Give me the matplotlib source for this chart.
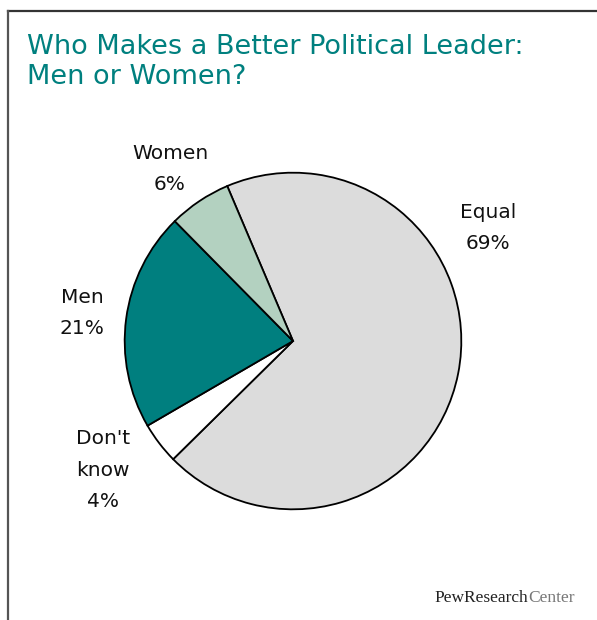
import matplotlib.pyplot as plt
from matplotlib.lines import Line2D

# Daten
kategorien = ["Equal", "Don't\nknow", "Men", "Women"]
anteile = [69, 4, 21, 6]
farben = ["#dcdcdc", "#ffffff", "#007f7f", "#b3d1c0"]
titel = "Who Makes a Better Political Leader:\nMen or Women?"

W, H = 597, 620
fig = plt.figure(figsize=(W / 100, H / 100), dpi=100)

def px(x, y):
    # Pixel (von oben links) -> Figurkoordinaten
    return x / W, 1 - y / H

# Rahmen oben und links
fig.add_artist(Line2D([8 / W, 1], [1 - 11 / H, 1 - 11 / H], color="#333333", lw=1.6))
fig.add_artist(Line2D([8 / W, 8 / W], [1 - 11 / H, 0], color="#555555", lw=1.6))

# Titel
fig.text(*px(27, 34), titel, color="#00807f", fontsize=19.5, ha="left", va="top",
         family="DejaVu Sans", linespacing=1.2)

# Kreisdiagramm
cx, cy, r = 293, 341, 170
ax = fig.add_axes([(cx - r) / W, (H - cy - r) / H, 2 * r / W, 2 * r / H])
ax.pie(anteile, colors=farben, startangle=113, counterclock=False,
       wedgeprops={"edgecolor": "black", "linewidth": 1.3})
ax.set_xlim(-1.01, 1.01)
ax.set_ylim(-1.01, 1.01)
ax.axis("off")

# Beschriftungen
label_pos = {"Equal": (488, 228), "Don't\nknow": (103, 470), "Men": (82, 313), "Women": (170, 169)}
for kat, wert in zip(kategorien, anteile):
    x, y = label_pos[kat]
    fig.text(*px(x, y), f"{kat}\n{wert}%", ha="center", va="center", fontsize=14.5,
             family="DejaVu Sans", linespacing=1.85, color="#111111")

# Logo
t1 = fig.text(*px(434, 602), "PewResearch", family="Liberation Serif", fontsize=12.5,
              color="#222222", ha="left", va="baseline")
fig.text(0, 0, "Center", family="Liberation Serif", fontsize=12.5, color="#777777",
         ha="left", va="baseline", transform=t1.get_transform())
fig.canvas.draw()
bb = t1.get_window_extent()
fig.texts[-1].set_position((bb.x1 / W + 0.5 / W, 1 - 602 / H))

plt.savefig("out.png", dpi=100)
